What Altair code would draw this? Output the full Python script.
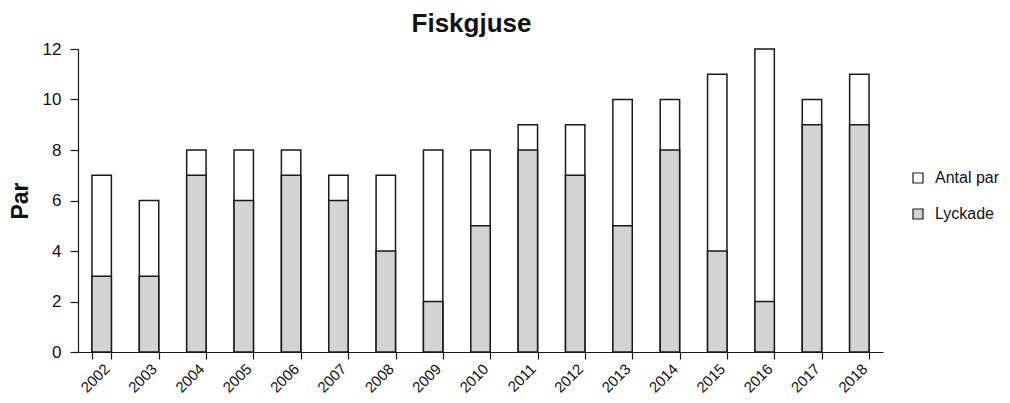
import altair as alt
import pandas as pd

years = [str(y) for y in range(2002, 2019)]
antal_par = [7, 6, 8, 8, 8, 7, 7, 8, 8, 9, 9, 10, 10, 11, 12, 10, 11]
lyckade = [3, 3, 7, 6, 7, 6, 4, 2, 5, 8, 7, 5, 8, 4, 2, 9, 9]
series = ["Antal par", "Lyckade"]

rows = []
for y, v in zip(years, antal_par):
    rows.append({"year": y, "series": series[0], "value": v, "ord": 0})
for y, v in zip(years, lyckade):
    rows.append({"year": y, "series": series[1], "value": v, "ord": 1})
df = pd.DataFrame(rows)

FONT = "Liberation Sans"
INK = "#1a1a1a"

chart = alt.Chart(df).mark_bar(stroke=INK, strokeWidth=1.5).encode(
    x=alt.X("year:N", title=None,
            scale=alt.Scale(paddingInner=0.59, paddingOuter=0.295),
            axis=alt.Axis(labelAngle=-45, tickBand="extent", tickSize=7,
                          labelFontSize=15, labelFont=FONT, labelColor="#111",
                          domainColor=INK, tickColor=INK,
                          domainWidth=1.2, tickWidth=1.2, labelPadding=2)),
    y=alt.Y("value:Q", stack=None, title="Par",
            scale=alt.Scale(domain=[0, 12], nice=False),
            axis=alt.Axis(values=[0, 2, 4, 6, 8, 10, 12], grid=False, tickSize=8,
                          labelFontSize=17, labelFont=FONT, labelColor="#111",
                          labelPadding=9, titleFontSize=23, titleFont=FONT,
                          titleFontWeight="bold", titleColor="#111", titlePadding=10,
                          domainColor=INK, tickColor=INK,
                          domainWidth=1.2, tickWidth=1.2)),
    fill=alt.Fill("series:N", scale=alt.Scale(domain=series, range=["#ffffff", "#d3d3d3"]),
                  legend=alt.Legend(title=None, orient="none", legendX=832, legendY=121,
                                    symbolType="square", symbolSize=100,
                                    symbolStrokeColor=INK, symbolStrokeWidth=1.2,
                                    labelFontSize=16, labelFont=FONT, labelColor="#111",
                                    rowPadding=20, labelOffset=9)),
    order=alt.Order("ord:Q"),
).properties(
    width=805, height=303,
    background="white",
    title=alt.TitleParams("Fiskgjuse", fontSize=26, font=FONT, fontWeight="bold",
                          color="#111", offset=3, dx=-9, frame="group"),
    padding={"left": 1, "top": 3, "right": 0, "bottom": 0},
).configure_view(stroke=None)

chart.save("out.html", embed_options={"renderer": "svg", "actions": False})
